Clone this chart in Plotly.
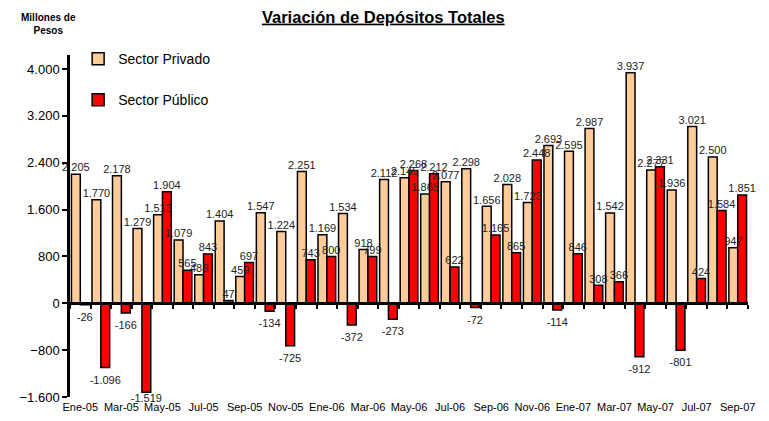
import plotly.graph_objects as go

months = ["Ene-05","Feb-05","Mar-05","Abr-05","May-05","Jun-05","Jul-05","Ago-05","Sep-05","Oct-05","Nov-05","Dic-05",
          "Ene-06","Feb-06","Mar-06","Abr-06","May-06","Jun-06","Jul-06","Ago-06","Sep-06","Oct-06","Nov-06","Dic-06",
          "Ene-07","Feb-07","Mar-07","Abr-07","May-07","Jun-07","Jul-07","Ago-07","Sep-07"]
privado = [2205, 1770, 2178, 1279, 1513, 1079, 488, 1404, 459, 1547, 1224, 2251,
           1169, 1534, 918, 2112, 2145, 1865, 2077, 2298, 1656, 2028, 1723, 2693,
           2595, 2987, 1542, 3937, 2277, 1936, 3021, 2500, 947]
publico = [-26, -1096, -166, -1519, 1904, 565, 843, 47, 697, -134, -725, 743,
           800, -372, 799, -273, 2268, 2212, 622, -72, 1165, 865, 2448, -114,
           846, 308, 366, -912, 2331, -801, 424, 1584, 1851]
y_ticks = [-1600, -800, 0, 800, 1600, 2400, 3200, 4000]
Y_MIN, Y_MAX = -1600, 4240
x_ticks = months[::2]

FONT = "Liberation Sans, Arial"
GAP = 0.14
fig = go.Figure()
for name, vals, col, grp in [("Sector Privado", privado, "#FFCC99", "a"),
                             ("Sector Público", publico, "#FF0000", "b")]:
    fig.add_trace(go.Bar(x=months, y=vals, name=name, legendgroup=grp, offsetgroup=grp,
                         marker=dict(color=col, line=dict(color="black", width=1.5))))

def label_pad(v):
    # spacing of the value label from the bar end (in marker-size units)
    if v >= 0:
        return 0
    return 11 if v > 0.9 * Y_MIN else 1

# value labels drawn on top of all bars
for vals, grp in [(privado, "a"), (publico, "b")]:
    fig.add_trace(go.Scatter(x=months, y=vals, mode="markers+text", offsetgroup=grp,
                             marker=dict(color="rgba(0,0,0,0)", line=dict(width=0),
                                         size=[label_pad(v) for v in vals]),
                             text=[f"{v:,}".replace(",", ".") for v in vals],
                             textposition=["top center" if v >= 0 else "bottom center" for v in vals],
                             textfont=dict(family=FONT, size=11, color="#222"),
                             showlegend=False, hoverinfo="skip", cliponaxis=False))
# helper trace for the boundary-tick axis drawn at zero
fig.add_trace(go.Scatter(x=[0], y=[0], xaxis="x2", mode="markers", marker=dict(opacity=0),
                         showlegend=False, hoverinfo="skip"))

n = len(months)
zero_pos = (0 - Y_MIN) / (Y_MAX - Y_MIN)

fig.update_layout(
    width=769, height=421,
    margin=dict(l=62, r=29, t=47, b=32),
    plot_bgcolor="white", paper_bgcolor="white",
    separators=",.",
    barmode="group", bargap=GAP, bargroupgap=0.0,
    scattermode="group", scattergap=GAP,
    font=dict(family=FONT, color="black"),
    title=dict(text="<b><u>Variación de Depósitos Totales</u></b>", x=0.488, xref="container",
               xanchor="center", y=0.979, yref="container", yanchor="middle",
               font=dict(size=16.5, color="black")),
    showlegend=True,
    legend=dict(x=0.012, y=1.035, xanchor="left", yanchor="top", bgcolor="rgba(0,0,0,0)",
                font=dict(size=14), tracegroupgap=20, itemwidth=30),
    xaxis=dict(type="category", tickmode="array", tickvals=x_ticks, ticktext=x_ticks,
               range=[-0.5, n - 0.5], showline=False, ticks="", showgrid=False,
               tickfont=dict(size=11), ticklabelstandoff=2),
    xaxis2=dict(overlaying="x", anchor="free", position=zero_pos, range=[-0.5, n - 0.5],
                showline=True, linecolor="black", linewidth=2.5, ticks="outside", ticklen=4,
                tickwidth=2, tickcolor="black", tickvals=[i - 0.5 for i in range(n + 1)],
                showticklabels=False, showgrid=False, zeroline=False),
    yaxis=dict(range=[Y_MIN, Y_MAX], tickvals=y_ticks, tickformat=",", showline=True,
               linecolor="black", linewidth=2.5, ticks="outside", ticklen=5, tickwidth=2,
               tickcolor="black", showgrid=False, zeroline=False, tickfont=dict(size=13)),
    annotations=[dict(text="<b>Millones de<br>Pesos</b>", x=-0.0324, y=1.09, xref="paper",
                      yref="paper", xanchor="center", yanchor="middle", showarrow=False,
                      font=dict(size=10))]
)
fig.write_html("out.html")
